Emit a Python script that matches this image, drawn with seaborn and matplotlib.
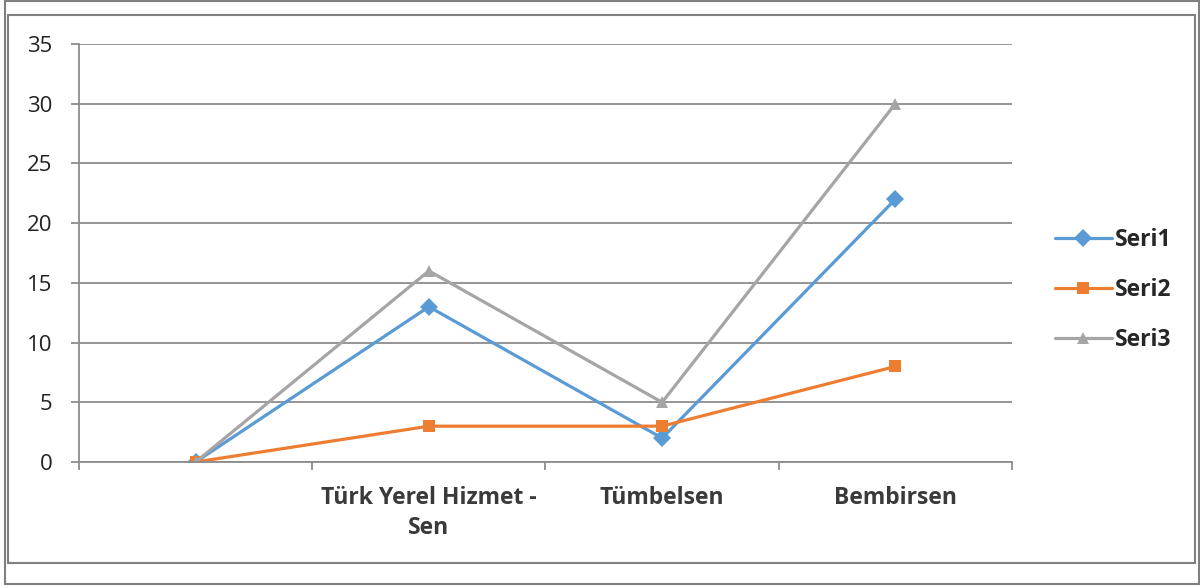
import matplotlib
matplotlib.use("Agg")
import matplotlib.pyplot as plt
from matplotlib.patches import Rectangle
import seaborn as sns
import pandas as pd

categories = ["", "Türk Yerel Hizmet -\nSen", "Tümbelsen", "Bembirsen"]
seri1 = [0, 13, 2, 22]
seri2 = [0, 3, 3, 8]
seri3 = [0, 16, 5, 30]
series_names = ["Seri1", "Seri2", "Seri3"]
y_ticks = [0, 5, 10, 15, 20, 25, 30, 35]

sns.set_theme(style="white")
plt.rcParams["font.family"] = ["Open Sans", "DejaVu Sans"]

rows = []
for name, vals in zip(series_names, [seri1, seri2, seri3]):
    for c, v in zip(categories, vals):
        rows.append({"Kategori": c, "Değer": v, "Seri": name})
df = pd.DataFrame(rows)

colors = {"Seri1": "#5B9BD5", "Seri2": "#ED7D31", "Seri3": "#A5A5A5"}
markers = {"Seri1": "D", "Seri2": "s", "Seri3": "^"}

fig = plt.figure(figsize=(12, 5.88), dpi=100)
ax = fig.add_axes([79 / 1200, 1 - 462 / 588, (1012 - 79) / 1200, (462 - 44) / 588])

sns.lineplot(data=df, x="Kategori", y="Değer", hue="Seri", style="Seri",
             palette=colors, markers=markers, dashes=False, sort=False,
             linewidth=2.3, markersize=9, markeredgewidth=0, ax=ax)

grid_c = "#8c8c8c"
ax.set_xlim(-0.5, 3.5)
ax.set_ylim(0, 35)
ax.set_yticks(y_ticks)
ax.set_yticklabels([str(t) for t in y_ticks])
ax.yaxis.grid(True, color=grid_c, linewidth=1.3)
ax.xaxis.grid(False)
ax.set_xlabel("")
ax.set_ylabel("")

for side in ["top", "right"]:
    ax.spines[side].set_visible(False)
for side in ["left", "bottom"]:
    ax.spines[side].set_color(grid_c)
    ax.spines[side].set_linewidth(1.3)

ax.set_xticks(range(len(categories)))
ax.set_xticklabels(categories, fontweight="bold", fontsize=16.5, color="#3a3a3a",
                   multialignment="center", linespacing=1.35)
ax.set_xticks([-0.5, 0.5, 1.5, 2.5, 3.5], minor=True)
ax.tick_params(axis="x", which="major", length=0, pad=17)
ax.tick_params(axis="x", which="minor", length=6, width=1.3, color=grid_c, direction="out", bottom=True)
ax.tick_params(axis="y", which="major", length=6, width=1.3, color=grid_c, direction="out", left=True,
               labelsize=16, labelcolor="#222222", pad=13)

handles, labels = ax.get_legend_handles_labels()
leg = ax.legend(handles, labels, loc="center left", bbox_to_anchor=(1034 / 1200, 1 - 290 / 588),
                bbox_transform=fig.transFigure, frameon=False, fontsize=16.5,
                handlelength=2.5, handletextpad=0.15, labelspacing=1.15)
for t in leg.get_texts():
    t.set_fontweight("bold")
    t.set_color("#262626")

def px_rect(x0, y0, x1, y1):
    r = Rectangle((x0 / 1200, 1 - y1 / 588), (x1 - x0) / 1200, (y1 - y0) / 588,
                  transform=fig.transFigure, fill=False, edgecolor="#7f7f7f", linewidth=1.5)
    fig.add_artist(r)

px_rect(5, 1, 1199, 584)
px_rect(8, 15, 1195, 563)

fig.savefig("out.png", dpi=100, facecolor="white")
